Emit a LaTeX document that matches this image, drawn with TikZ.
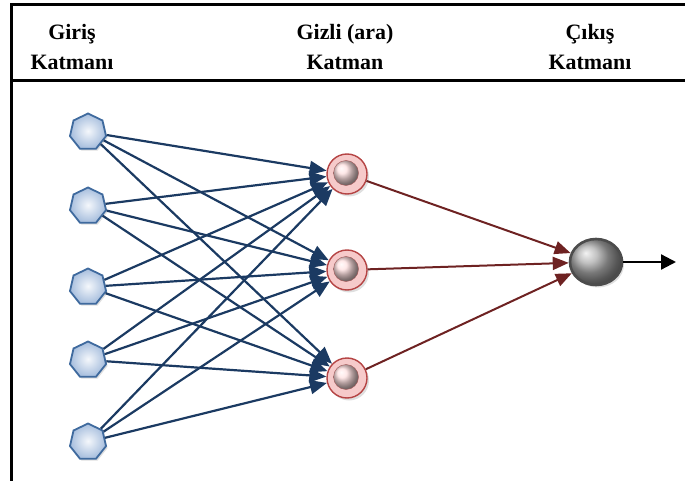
\documentclass[tikz,border=0pt]{standalone}
\usepackage{fontspec}
\setmainfont{Liberation Serif}
\usetikzlibrary{shapes.geometric,arrows.meta,shadows}
\definecolor{inblue}{HTML}{1B3A62}
\definecolor{hidred}{HTML}{6E2222}
\definecolor{polyedge}{HTML}{3F6A9E}
\definecolor{polyfill}{HTML}{B8CCE8}
\definecolor{ringfill}{HTML}{F6CACA}
\definecolor{ringedge}{HTML}{B54444}
\tikzset{
  frame/.style={line width=3bp,black},
  head/.style={font=\bfseries\fontsize{22}{31}\selectfont,align=center,text=black},
  innode/.style={regular polygon,regular polygon sides=7,minimum size=37bp,inner sep=0pt,
    draw=polyedge,line width=1.8bp,inner color=white!85!polyfill,outer color=polyfill!85!polyedge,
    drop shadow={opacity=0.25,shadow xshift=1.5bp,shadow yshift=-2bp}},
  hidnode/.style={circle,minimum size=40bp,inner sep=0pt,draw=ringedge,line width=1.4bp,
    fill=ringfill,drop shadow={opacity=0.25,shadow xshift=2bp,shadow yshift=-2.5bp}},
  hidball/.style={circle,minimum size=25bp,inner sep=0pt,ball color=red!12!white,draw=red!30!gray,line width=0.4bp},
  outnode/.style={ellipse,minimum width=52bp,minimum height=46bp,inner sep=0pt,draw=gray!60!black,
    line width=2.6bp,ball color=gray!65!white,drop shadow={opacity=0.25,shadow xshift=2bp,shadow yshift=-2.5bp}},
  bluearrow/.style={draw=inblue,line width=2.2bp,-{Triangle[length=17bp,width=14bp]}},
  redarrow/.style={draw=hidred,line width=2bp,-{Triangle[length=16bp,width=13bp]}},
  blackarrow/.style={draw=black,line width=2.2bp,-{Triangle[length=15bp,width=15bp]}},
}
\begin{document}
\begin{tikzpicture}[x=1bp,y=-1bp]
\useasboundingbox (0,0) rectangle (685,481);
% frame
\coordinate (tl) at (11,5);
\coordinate (tr) at (685,5);
\coordinate (ml) at (11,81);
\coordinate (mr) at (685,81);
\coordinate (bl) at (11,481);
\draw[frame] (tr) -- (tl) -- (bl);
\draw[frame] (ml) -- (mr);
% headings
\node[head] (t1) at (72,47) {Giriş\\Katmanı};
\node[head] (t2) at (345,47) {Gizli (ara)\\Katman};
\node[head] (t3) at (590,47) {Çıkış\\Katmanı};
% input nodes
\node[innode] (i1) at (88,132) {};
\node[innode] (i2) at (88,206) {};
\node[innode] (i3) at (88,287) {};
\node[innode] (i4) at (88,360) {};
\node[innode] (i5) at (88,442) {};
% hidden nodes
\node[hidnode] (h1) at (347,174) {};
\node[hidnode] (h2) at (347,270) {};
\node[hidnode] (h3) at (347,378) {};
\foreach \h in {h1,h2,h3}{\node[hidball] (\h b) at ([xshift=-1bp,yshift=1bp]\h.center) {};}
% output node
\node[outnode] (o) at (596,262) {};
\coordinate (oend) at (676,262);
% connections
\foreach \i in {i1,i2,i3,i4,i5}{
  \foreach \h in {h1,h2,h3}{
    \draw[bluearrow] (\i) -- (\h);
  }
}
\foreach \h in {h1,h2,h3}{\draw[redarrow] (\h) -- (o);}
\draw[blackarrow] (o) -- (oend);
\end{tikzpicture}
\end{document}
